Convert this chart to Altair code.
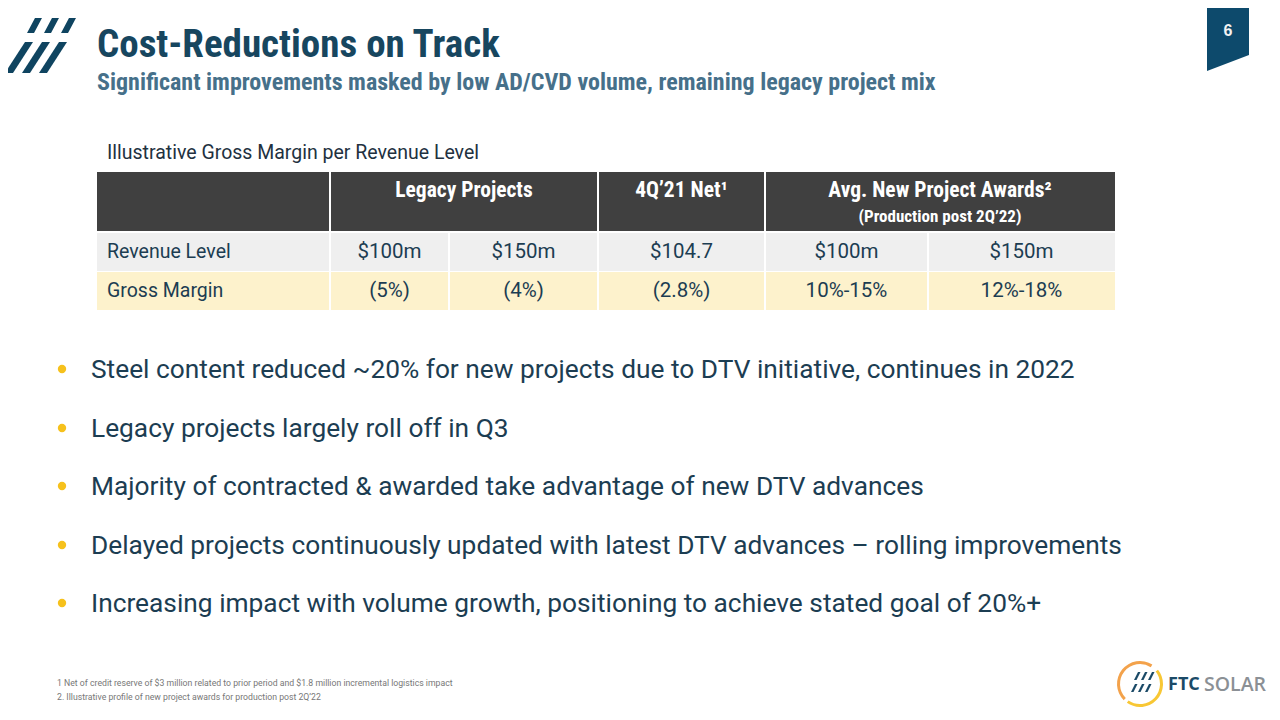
import altair as alt
import pandas as pd

# ---------------- content ----------------
title = "Cost-Reductions on Track"
subtitle = "Significant improvements masked by low AD/CVD volume, remaining legacy project mix"
page_number = "6"
table_caption = "Illustrative Gross Margin per Revenue Level"
header_groups = ["Legacy Projects", "4Q\u201921 Net\u00b9", "Avg. New Project Awards\u00b2"]
header_sub = "(Production post 2Q\u201922)"
row_labels = ["Revenue Level", "Gross Margin"]
revenue_levels = ["$100m", "$150m", "$104.7", "$100m", "$150m"]
gross_margins = ["(5%)", "(4%)", "(2.8%)", "10%-15%", "12%-18%"]
bullets = [
    "Steel content reduced ~20% for new projects due to DTV initiative, continues in 2022",
    "Legacy projects largely roll off in Q3",
    "Majority of contracted & awarded take advantage of new DTV advances",
    "Delayed projects continuously updated with latest DTV advances \u2013 rolling improvements",
    "Increasing impact with volume growth, positioning to achieve stated goal of 20%+",
]
footnotes = [
    "1 Net of credit reserve of $3 million related to prior period and $1.8 million incremental logistics impact",
    "2. Illustrative profile of new project awards for production post 2Q\u201922",
]
logo_word_1 = "FTC"
logo_word_2 = "SOLAR"

# ---------------- layout ----------------
W, H = 1264, 700
xs = alt.Scale(domain=[8, 8 + W], zero=False, nice=False)
ys = alt.Scale(domain=[8, 8 + H], zero=False, nice=False, reverse=True)

NAVY = "#17465f"
TEXT = "#1c3d52"
COND = "Roboto Condensed, Noto Sans Condensed, DejaVu Sans Condensed, Open Sans Condensed, Liberation Sans Narrow, Roboto"
BODY = "Roboto"

col_edges = [97, 330, 449, 598, 765, 928, 1115]
group_spans = [(1, 3), (3, 4), (4, 6)]
header_top, header_bot = 172, 231
row_tops = [233, 272]
row_bots = [271, 310]
row_fills = ["#efefef", "#fdf2cc"]


def X(f):
    return alt.X(f, type="quantitative", scale=xs, axis=None)


def Y(f):
    return alt.Y(f, type="quantitative", scale=ys, axis=None)


# table cell rectangles
rects = []
rects.append(dict(x=col_edges[0], x2=col_edges[1] - 1, y=header_top, y2=header_bot, fill="#404040"))
for a, b in group_spans:
    rects.append(dict(x=col_edges[a] + 1, x2=col_edges[b] - 1 if b < len(col_edges) - 1 else col_edges[b],
                      y=header_top, y2=header_bot, fill="#404040"))
for r in range(2):
    for c in range(len(col_edges) - 1):
        x0 = col_edges[c] + (1 if c > 0 else 0)
        x1 = col_edges[c + 1] - (1 if c < len(col_edges) - 2 else 0)
        rects.append(dict(x=x0, x2=x1, y=row_tops[r], y2=row_bots[r], fill=row_fills[r]))
rect_df = pd.DataFrame(rects)
rect_layer = alt.Chart(rect_df).mark_rect().encode(
    x=X("x"), x2="x2", y=Y("y"), y2="y2", fill=alt.Fill("fill:N", scale=None)
)


def poly_layer_of(rows, color):
    df = pd.DataFrame(rows)
    return alt.Chart(df).mark_area(orient="horizontal", color=color).encode(
        y=Y("y"), x=alt.X("xl:Q", scale=xs, axis=None, stack=None), x2="xr:Q", detail="id:N"
    )


# logo slashes, top-left
polys = []
top_slashes = [((35, 42), (27, 34)), ((52, 59), (44, 51)), ((69, 76), (61, 68))]
for i, (t, b) in enumerate(top_slashes):
    polys.append(dict(id=f"t{i}", y=18, xl=t[0], xr=t[1]))
    polys.append(dict(id=f"t{i}", y=33, xl=b[0], xr=b[1]))
bot_slashes = [((25, 33), (5, 13)), ((42, 50), (22, 30)), ((59, 67), (39, 47))]
for i, (t, b) in enumerate(bot_slashes):
    polys.append(dict(id=f"b{i}", y=42, xl=t[0], xr=t[1]))
    polys.append(dict(id=f"b{i}", y=73, xl=b[0], xr=b[1]))
poly_layer = poly_layer_of(polys, "#0f4460")

# page tab
tab_layer = poly_layer_of([
    dict(id="tab", y=8, xl=1207, xr=1249),
    dict(id="tab", y=55, xl=1207, xr=1249),
    dict(id="tab", y=71, xl=1207, xr=1207),
], "#0d4a6c")

# small logo slashes, bottom-right
small = []
for i, x0 in enumerate([1134, 1141, 1148]):
    small.append(dict(id=f"s{i}", y=672, xl=x0 + 4, xr=x0 + 6.5))
    small.append(dict(id=f"s{i}", y=680, xl=x0, xr=x0 + 2.5))
for i, x0 in enumerate([1131, 1138, 1145]):
    small.append(dict(id=f"u{i}", y=684, xl=x0 + 4, xr=x0 + 6.5))
    small.append(dict(id=f"u{i}", y=692, xl=x0, xr=x0 + 2.5))
small_layer = poly_layer_of(small, "#1b4a67")

ring_df = pd.DataFrame([dict(x=1140, y=684)])
ring_o = alt.Chart(ring_df).mark_arc(radius=23, radius2=20, theta=3.93, theta2=6.85, color="#f3a24b").encode(
    x=X("x"), y=Y("y"))
ring_y = alt.Chart(ring_df).mark_arc(radius=23, radius2=20, theta=0.9, theta2=3.75, color="#f8c734").encode(
    x=X("x"), y=Y("y"))


def text_layer(rows, **mark):
    df = pd.DataFrame(rows)
    return alt.Chart(df).mark_text(**mark).encode(x=X("x"), y=Y("y"), text="t:N")


title_layer = text_layer([dict(x=97, y=57, t=title)], align="left", baseline="alphabetic",
                         font=COND, fontSize=39, fontWeight="bold", color=NAVY)
sub_layer = text_layer([dict(x=97, y=90, t=subtitle)], align="left", baseline="alphabetic",
                       font=COND, fontSize=24, fontWeight="bold", color="#46708a")
page_layer = text_layer([dict(x=1228, y=31, t=page_number)], align="center", baseline="middle",
                        font="Liberation Sans", fontSize=16, fontWeight="bold", color="#f2f2f2")
cap_layer = text_layer([dict(x=107, y=153, t=table_caption)], align="left", baseline="middle",
                       font=BODY, fontSize=19.5, color="#22313f")

hdr = []
for (a, b), g in zip(group_spans, header_groups):
    cx = (col_edges[a] + col_edges[b]) / 2
    hdr.append(dict(x=cx, y=191, t=g))
hdr_layer = text_layer(hdr, align="center", baseline="middle", font=COND, fontSize=21.5,
                       fontWeight="bold", color="#ffffff")
a, b = group_spans[2]
hdr_sub_layer = text_layer([dict(x=(col_edges[a] + col_edges[b]) / 2, y=217, t=header_sub)],
                           align="center", baseline="middle", font=COND, fontSize=17,
                           fontWeight="bold", color="#ffffff")

cells = []
for r, vals in enumerate([revenue_levels, gross_margins]):
    yc = (row_tops[r] + row_bots[r]) / 2
    for c, v in enumerate(vals):
        cells.append(dict(x=(col_edges[c + 1] + col_edges[c + 2]) / 2, y=yc, t=v))
cell_layer = text_layer(cells, align="center", baseline="middle", font=BODY, fontSize=20.5, color=TEXT)
lab_layer = text_layer([dict(x=107, y=(row_tops[r] + row_bots[r]) / 2, t=l) for r, l in enumerate(row_labels)],
                       align="left", baseline="middle", font=BODY, fontSize=19.5, color=TEXT)

bullet_y = [369, 428, 486, 545, 603]
dot_df = pd.DataFrame([dict(x=62, y=yy) for yy in bullet_y])
dot_layer = alt.Chart(dot_df).mark_circle(size=70, opacity=1, color="#f6c11c").encode(x=X("x"), y=Y("y"))
bullet_layer = text_layer([dict(x=91, y=yy + 9, t=t) for yy, t in zip(bullet_y, bullets)],
                          align="left", baseline="alphabetic", font=BODY, fontSize=26.3, color=TEXT)

foot_layer = text_layer([dict(x=57, y=683, t=footnotes[0]), dict(x=57, y=697, t=footnotes[1])],
                        align="left", baseline="middle", font=BODY, fontSize=8.7, color="#777777")

ftc_layer = text_layer([dict(x=1168, y=685, t=logo_word_1)], align="left", baseline="middle",
                       font="Open Sans", fontSize=18, fontWeight="bold", color="#1b4a67")
solar_layer = text_layer([dict(x=1204, y=685, t=logo_word_2)], align="left", baseline="middle",
                         font="Open Sans", fontSize=19.5, fontWeight=600, color="#8b9095")

chart = alt.layer(
    rect_layer, poly_layer, tab_layer, small_layer, ring_o, ring_y,
    title_layer, sub_layer, page_layer, cap_layer, hdr_layer, hdr_sub_layer,
    cell_layer, lab_layer, dot_layer, bullet_layer, foot_layer, ftc_layer, solar_layer,
).properties(
    width=W, height=H, padding=0, autosize="none", background="#ffffff"
).configure_view(stroke=None)

chart.save("out.html", embed_options={"renderer": "svg", "actions": False})
